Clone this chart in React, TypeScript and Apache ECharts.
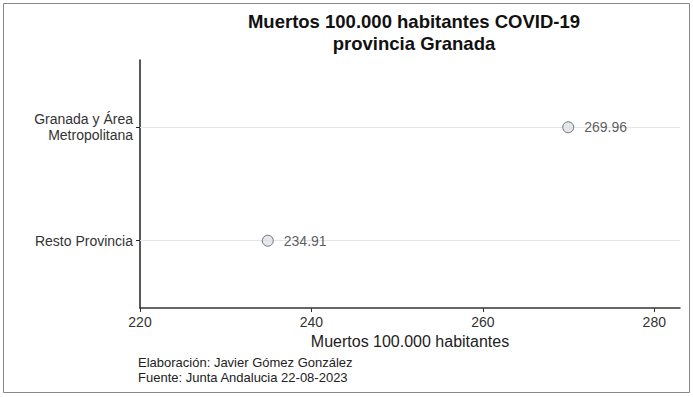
import React, { useEffect, useRef } from "react";
import * as echarts from "echarts";

const categories = ["Resto Provincia", "Granada y Área\nMetropolitana"];
const positions = [1, 2];
const values = [234.91, 269.96];
const xTicks = [220, 240, 260, 280];
const titleText = "Muertos 100.000 habitantes COVID-19\nprovincia Granada";
const xAxisName = "Muertos 100.000 habitantes";
const footerText = "Elaboración: Javier Gómez González\nFuente: Junta Andalucia 22-08-2023";

const FONT = "Liberation Sans, Arial, Helvetica, sans-serif";

export default function App() {
  const ref = useRef<HTMLDivElement>(null);
  useEffect(() => {
    if (!ref.current) return;
    const chart = echarts.init(ref.current, undefined, { renderer: "svg" });
    const option = {
      animation: false,
      backgroundColor: "#ffffff",
      textStyle: { fontFamily: FONT },
      title: [
        {
          text: titleText,
          left: 409,
          top: 5,
          textAlign: "center",
          textStyle: { fontFamily: FONT, fontSize: 18.5, fontWeight: "bold", color: "#111", lineHeight: 22 },
        },
        {
          text: footerText,
          left: 133,
          top: 350,
          textStyle: { fontFamily: FONT, fontSize: 13, fontWeight: "normal", color: "#222", lineHeight: 15 },
        },
      ],
      graphic: [
        {
          type: "rect",
          shape: { x: 3.5, y: 3.5, width: 686, height: 389 },
          style: { fill: "none", stroke: "#888", lineWidth: 1 },
          silent: true,
        },
      ],
      grid: { left: 140, right: 13, top: 60, bottom: 89 },
      xAxis: {
        type: "value",
        min: 220,
        max: 283,
        interval: 20,
        name: xAxisName,
        nameLocation: "middle",
        nameGap: 24,
        nameTextStyle: { fontFamily: FONT, fontSize: 16, color: "#222" },
        axisLine: { show: true, lineStyle: { color: "#333", width: 1.5 } },
        axisTick: { show: true, length: 4, customValues: xTicks, lineStyle: { color: "#333" } },
        axisLabel: { customValues: xTicks, margin: 7, fontFamily: FONT, fontSize: 14, color: "#333" },
        splitLine: { show: false },
      },
      yAxis: {
        type: "value",
        min: 0.407,
        max: 2.593,
        axisLine: { show: true, lineStyle: { color: "#222", width: 1.5 } },
        axisTick: { show: true, length: 4, customValues: positions, lineStyle: { color: "#222" } },
        axisLabel: {
          customValues: positions,
          margin: 7,
          fontFamily: FONT,
          fontSize: 14,
          color: "#333",
          lineHeight: 16,
          formatter: (v: number) => {
            const i = positions.indexOf(v);
            return i >= 0 ? categories[i] : "";
          },
        },
        splitLine: { show: false },
      },
      series: [
        {
          type: "scatter",
          z: 10,
          symbol: "circle",
          symbolSize: 11,
          data: values.map((v, i) => [v, positions[i]]),
          itemStyle: { color: "#dde2e9", borderColor: "#555", borderWidth: 1 },
          label: {
            show: true,
            position: "right",
            distance: 10,
            formatter: (p: any) => p.value[0].toFixed(2),
            fontFamily: FONT,
            fontSize: 14,
            color: "#333",
          },
          markLine: {
            silent: true,
            z: 1,
            symbol: "none",
            label: { show: false },
            lineStyle: { color: "#e6e6e6", type: "solid", width: 1 },
            data: positions.map((p) => ({ yAxis: p })),
          },
        },
      ],
    };
    chart.setOption(option as any);
    return () => chart.dispose();
  }, []);
  return (
    <div
      ref={ref}
      style={{ position: "absolute", left: 0, top: 0, width: 693, height: 397 }}
    />
  );
}
